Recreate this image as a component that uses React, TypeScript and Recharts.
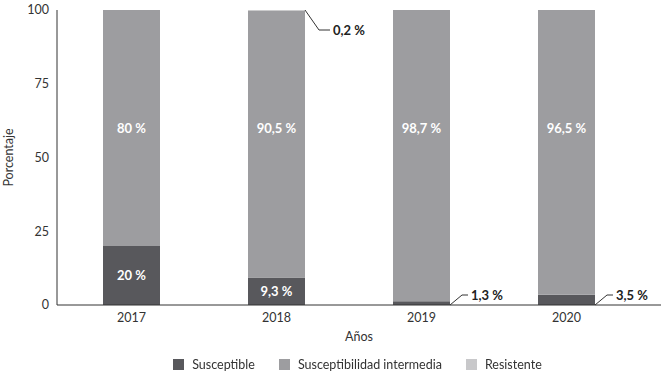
import React from "react";
import {
  BarChart,
  Bar,
  XAxis,
  YAxis,
  Legend,
  LabelList,
} from "recharts";

const years = ["2017", "2018", "2019", "2020"];
const susceptible = [20, 9.3, 1.3, 3.5];
const intermedia = [80, 90.5, 98.7, 96.5];
const resistente = [0, 0.2, 0, 0];
const yTicks = [0, 25, 50, 75, 100];

const COLORS = {
  susceptible: "#58585c",
  intermedia: "#9d9da0",
  resistente: "#c8c8ca",
};

const FONT = "Lato, 'Open Sans', sans-serif";

const data = years.map((year, i) => ({
  year,
  susceptible: susceptible[i],
  intermedia: intermedia[i],
  resistente: resistente[i],
}));

const fmt = (v: number) => `${String(v).replace(".", ",")} %`;

function OutsideLabel({ x0, y0, up, text }: { x0: number; y0: number; up: boolean; text: string }) {
  const dx = up ? 12 : 14;
  const dy = up ? -10 : 20;
  const run = up ? 6 : 11;
  const x1 = x0 + dx;
  const y1 = y0 + dy;
  const x2 = x1 + run;
  return (
    <g>
      <polyline points={`${x0},${y0} ${x1},${y1} ${x2},${y1}`} fill="none" stroke="#333" strokeWidth={1} />
      <text x={x2 + 3} y={y1} dy="0.35em" fill="#222" fontSize={13} fontWeight={700} fontFamily={FONT}>
        {text}
      </text>
    </g>
  );
}

const susceptibleLabel = (props: any) => {
  const { x, y, width, height, index } = props;
  const v = susceptible[index];
  if (!v) return null;
  if (v < 4) {
    return <OutsideLabel x0={x + width} y0={y + height} up text={fmt(v)} />;
  }
  return (
    <text x={x + width / 2} y={y + height / 2} dy="0.35em" textAnchor="middle" fill="#fff" fontSize={13} fontWeight={700} fontFamily={FONT}>
      {fmt(v)}
    </text>
  );
};

// intermediate labels sit at the 60 % level; the tiny "resistente" cap gets a leader line from its top
const intermediaLabel = (props: any) => {
  const { x, y, width, height, index } = props;
  const v = intermedia[index];
  if (!v) return null;
  const start = susceptible[index];
  const perUnit = height / v;
  const ly = y + height - (60 - start) * perUnit;
  const r = resistente[index];
  return (
    <g>
      <text x={x + width / 2} y={ly} dy="0.35em" textAnchor="middle" fill="#fff" fontSize={13} fontWeight={700} fontFamily={FONT}>
        {fmt(v)}
      </text>
      {r > 0 && <OutsideLabel x0={x + width} y0={y - r * perUnit} up={false} text={fmt(r)} />}
    </g>
  );
};

const legendItems = [
  { label: "Susceptible", color: COLORS.susceptible },
  { label: "Susceptibilidad intermedia", color: COLORS.intermedia },
  { label: "Resistente", color: COLORS.resistente },
];

const LegendContent = () => (
  <div style={{ display: "flex", justifyContent: "center", gap: 24, paddingLeft: 54, paddingTop: 16, fontFamily: FONT, fontSize: 12.5, color: "#333" }}>
    {legendItems.map((it) => (
      <div key={it.label} style={{ display: "flex", alignItems: "center", gap: 8 }}>
        <span style={{ width: 11, height: 11, background: it.color, display: "inline-block" }} />
        <span>{it.label}</span>
      </div>
    ))}
  </div>
);

export default function App() {
  return (
    <div style={{ position: "fixed", left: 0, top: 0, width: 661, height: 371, background: "#fff" }}>
      <BarChart width={661} height={371} data={data} margin={{ top: 10, right: 0, bottom: 0, left: 0 }}>
        <XAxis
          dataKey="year"
          height={36}
          padding={{ left: 2, right: 22 }}
          tickLine={false}
          axisLine={{ stroke: "#333" }}
          tick={{ fontSize: 12.5, fill: "#333", fontFamily: FONT }}
          label={{ value: "Años", position: "insideBottom", offset: 0, fontSize: 12.5, fill: "#333", fontFamily: FONT }}
        />
        <YAxis
          width={57}
          domain={[0, 100]}
          ticks={yTicks}
          tickLine={false}
          axisLine={{ stroke: "#333" }}
          tick={{ fontSize: 12.5, fill: "#333", fontFamily: FONT }}
          label={{ value: "Porcentaje", angle: -90, position: "insideLeft", offset: 9, fontSize: 12.5, fill: "#333", fontFamily: FONT, style: { textAnchor: "middle" } }}
        />
        <Legend verticalAlign="bottom" height={30} content={<LegendContent />} />
        <Bar dataKey="susceptible" stackId="a" fill={COLORS.susceptible} barSize={57} isAnimationActive={false}>
          <LabelList dataKey="susceptible" content={susceptibleLabel} />
        </Bar>
        <Bar dataKey="intermedia" stackId="a" fill={COLORS.intermedia} barSize={57} isAnimationActive={false}>
          <LabelList dataKey="intermedia" content={intermediaLabel} />
        </Bar>
        <Bar dataKey="resistente" stackId="a" fill={COLORS.resistente} barSize={57} isAnimationActive={false} />
      </BarChart>
    </div>
  );
}
